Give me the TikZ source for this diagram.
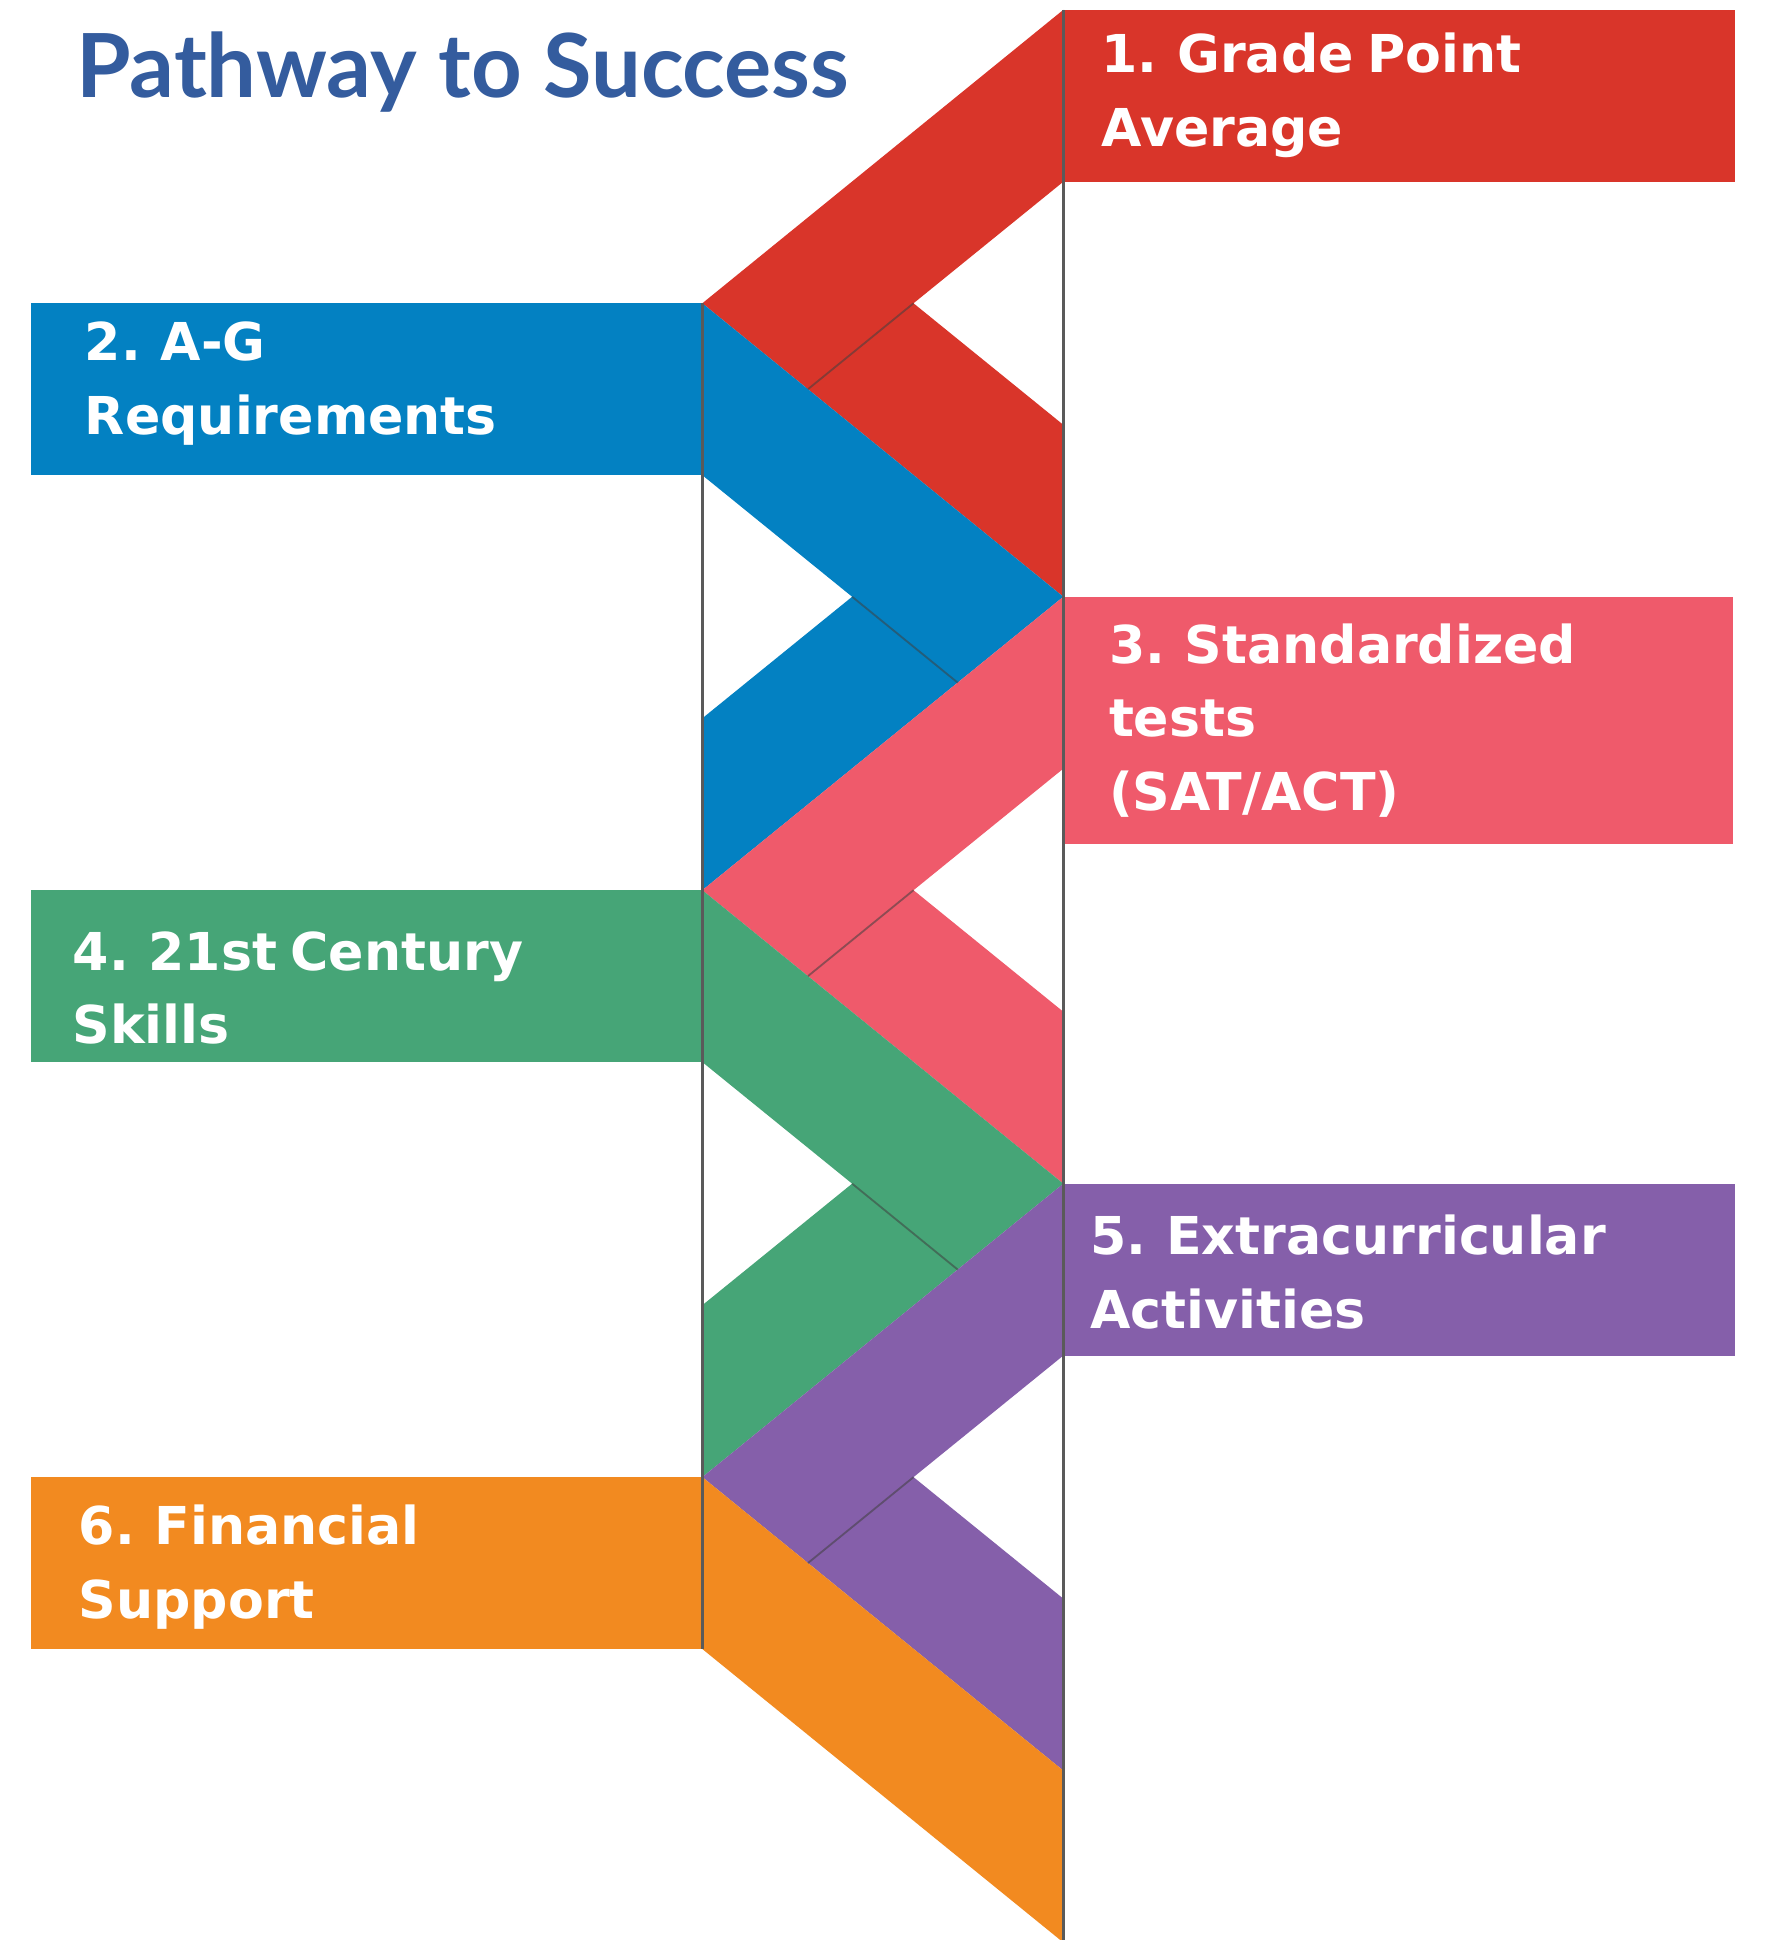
\documentclass[tikz,border=0pt]{standalone}
\usepackage{fontspec}
\setmainfont{DejaVu Sans}
\newfontfamily\titlefont{Lato}

\definecolor{titleblue}{HTML}{345C9E}
\definecolor{gpared}{HTML}{D9352A}
\definecolor{agblue}{HTML}{0381C2}
\definecolor{satpink}{HTML}{EF5A6B}
\definecolor{skillgreen}{HTML}{46A577}
\definecolor{extrapurple}{HTML}{855FAA}
\definecolor{finorange}{HTML}{F28A20}
\definecolor{linegray}{HTML}{5A5A5A}

\tikzset{
  lbl/.style={anchor=base west, inner sep=0pt, text=white,
    font=\fontsize{42.5}{60}\selectfont\bfseries},
  railline/.style={line width=2.8pt, draw=linegray},
  seamline/.style={line width=1.5pt, draw=black!75, opacity=0.55},
}
\newcommand{\pathlabel}[1]{\spaceskip=0.26em\relax\begin{tabular}[t]{@{}l@{}}#1\end{tabular}}

\begin{document}
\begin{tikzpicture}[x=1pt,y=-1pt]
  \useasboundingbox (0,0) rectangle (1440,1580);
  \fill[white] (0,0) rectangle (1440,1580);
  % title
  \node[anchor=base west, inner sep=0pt, text=titleblue,
    font=\titlefont\bfseries\fontsize{72}{80}\selectfont] (title) at (62,79) {Pathway to Success};
  % 1. grade point average
  \fill[gpared] (866,8) rectangle (1413,148);
  \fill[gpared] (866,8) -- (572,247) -- (866,486) -- (866,346) -- (744,247) -- (866,148) -- cycle;
  % 2. a-g requirements
  \fill[agblue] (25,247) rectangle (572,387);
  \fill[agblue] (572,247) -- (866,486) -- (572,725) -- (572,585) -- (694,486) -- (572,387) -- cycle;
  % 3. standardized tests
  \fill[satpink] (866,486) rectangle (1411,687);
  \fill[satpink] (866,486) -- (572,725) -- (866,964) -- (866,824) -- (744,725) -- (866,626) -- cycle;
  % 4. 21st century skills
  \fill[skillgreen] (25,725) rectangle (572,865);
  \fill[skillgreen] (572,725) -- (866,964) -- (572,1203) -- (572,1063) -- (694,964) -- (572,865) -- cycle;
  % 5. extracurricular activities
  \fill[extrapurple] (866,964) rectangle (1413,1104);
  \fill[extrapurple] (866,964) -- (572,1203) -- (866,1442) -- (866,1302) -- (744,1203) -- (866,1104) -- cycle;
  % 6. financial support
  \fill[finorange] (25,1203) rectangle (572,1343);
  \fill[finorange] (572,1203) -- (866,1442) -- (866,1582) -- (572,1343) -- cycle;
  % folds
  \draw[seamline] (658,317) -- (744,247);
  \draw[seamline] (694,486) -- (780,556);
  \draw[seamline] (658,795) -- (744,725);
  \draw[seamline] (694,964) -- (780,1034);
  \draw[seamline] (658,1273) -- (744,1203);
  % rails
  \draw[railline] (572,247) -- (572,1343);
  \draw[railline] (866,8) -- (866,1580);
  % labels
  \node[lbl] (gpa) at (897,59) {\pathlabel{1. Grade Point\\Average}};
  \node[lbl] (agreq) at (69,294) {\pathlabel{2. A-G\\Requirements}};
  \node[lbl] (sat) at (903,540) {\pathlabel{3. Standardized\\tests\\(SAT/ACT)}};
  \node[lbl] (skills) at (59,790) {\pathlabel{4. 21st Century\\Skills}};
  \node[lbl] (extra) at (888,1022) {\pathlabel{5. Extracurricular\\Activities}};
  \node[lbl] (fin) at (64,1258) {\pathlabel{6. Financial\\Support}};
\end{tikzpicture}
\end{document}
